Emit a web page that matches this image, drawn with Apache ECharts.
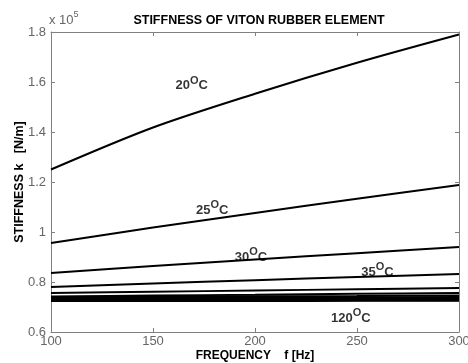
<!DOCTYPE html>
<html>
<head>
<meta charset="utf-8">
<script src="https://cdn.jsdelivr.net/npm/echarts@6/dist/echarts.min.js"></script>
<style>
  html, body { margin: 0; padding: 0; background: #fff; }
  #main { width: 468px; height: 363px; }
</style>
</head>
<body>
<div id="main"></div>
<script>
// frequency points [Hz]
var freq = [100, 150, 200, 250, 300];

// stiffness in units of 1e5 N/m, one array per temperature
var k20 = [1.250, 1.418, 1.553, 1.677, 1.790];
var k25 = [0.956, 1.018, 1.076, 1.133, 1.188];
var k30 = [0.836, 0.864, 0.890, 0.915, 0.940];
var k35 = [0.780, 0.794, 0.807, 0.820, 0.832];
var k40 = [0.756, 0.761, 0.766, 0.771, 0.776];
var k50 = [0.742, 0.746, 0.749, 0.753, 0.756];
var k60 = [0.740, 0.741, 0.743, 0.744, 0.746];
var k70 = [0.736, 0.737, 0.738, 0.739, 0.740];
var k80 = [0.733, 0.734, 0.734, 0.735, 0.736];
var k90 = [0.730, 0.731, 0.731, 0.732, 0.733];
var k100 = [0.728, 0.728, 0.729, 0.729, 0.730];
var k110 = [0.726, 0.726, 0.726, 0.727, 0.727];
var k120 = [0.724, 0.724, 0.724, 0.725, 0.725];

var curves = [k20, k25, k30, k35, k40, k50, k60, k70, k80, k90, k100, k110, k120];

// temperature labels: [text, freq, k]
var tempLabels = [
  ['20', 169, 1.594],
  ['25', 179, 1.096],
  ['30', 198, 0.908],
  ['35', 260, 0.848],
  ['120', 247, 0.664]
];

var xTicks = [100, 150, 200, 250, 300];
var yTicks = [0.6, 0.8, 1, 1.2, 1.4, 1.6, 1.8];

var chart = echarts.init(document.getElementById('main'));

var axisGray = '#808080';
var font = 'Arial, "Liberation Sans", sans-serif';

function pairs(ys) {
  return freq.map(function (f, i) { return [f, ys[i]]; });
}

var series = curves.map(function (c) {
  return {
    type: 'line',
    data: pairs(c),
    showSymbol: false,
    smooth: 0.3,
    lineStyle: { color: '#000', width: 2 },
    silent: true
  };
});

series.push({
  type: 'scatter',
  data: tempLabels.map(function (t) { return [t[1], t[2], t[0]]; }),
  symbolSize: 0,
  silent: true,
  label: {
    show: true,
    position: 'inside',
    formatter: function (p) { return '{n|' + p.data[2] + '}{s|O}{n|C}'; },
    rich: {
      n: { fontFamily: font, fontWeight: 'bold', fontSize: 13, color: '#000', verticalAlign: 'bottom', lineHeight: 17 },
      s: { fontFamily: font, fontWeight: 'bold', fontSize: 11, color: '#000', verticalAlign: 'top', lineHeight: 17, padding: [0, 0, 6, 0] }
    }
  }
});

chart.setOption({
  animation: false,
  title: {
    text: 'STIFFNESS OF VITON RUBBER ELEMENT',
    left: 254, top: 9, textAlign: 'center',
    textStyle: { fontFamily: font, fontWeight: 'bold', fontSize: 12.5, color: '#000' }
  },
  graphic: [{
    type: 'text', left: 49, top: 10,
    style: {
      text: '{a|x 10}{b|5}',
      rich: {
        a: { fontFamily: font, fontSize: 13, fill: '#666', verticalAlign: 'bottom', lineHeight: 17 },
        b: { fontFamily: font, fontSize: 9, fill: '#666', verticalAlign: 'top', lineHeight: 17, padding: [0, 0, 7, 0] }
      }
    }
  }],
  grid: { left: 51, right: 9, top: 32, bottom: 31, outerBoundsMode: 'none', containLabel: false },
  xAxis: [{
    type: 'value', min: 100, max: 300, interval: 50,
    name: 'FREQUENCY    f [Hz]', nameLocation: 'middle', nameGap: 18, nameMoveOverlap: false,
    nameTextStyle: { fontFamily: font, fontWeight: 'bold', fontSize: 12, color: '#000' },
    axisLine: { lineStyle: { color: axisGray } },
    axisTick: { inside: true, length: 4, lineStyle: { color: axisGray } },
    axisLabel: { fontFamily: font, fontSize: 13, color: '#666', margin: 3,
      formatter: function (v) { return xTicks.indexOf(v) >= 0 ? String(v) : ''; } },
    splitLine: { show: false }
  }, {
    type: 'value', min: 100, max: 300, interval: 50, position: 'top',
    axisLine: { lineStyle: { color: axisGray } },
    axisTick: { inside: true, length: 4, lineStyle: { color: axisGray } },
    axisLabel: { show: false },
    splitLine: { show: false }
  }],
  yAxis: [{
    type: 'value', min: 0.6, max: 1.8, interval: 0.2,
    name: 'STIFFNESS k   [N/m]', nameLocation: 'middle', nameGap: 25, nameMoveOverlap: false,
    nameTextStyle: { fontFamily: font, fontWeight: 'bold', fontSize: 12.5, color: '#000' },
    axisLine: { show: true, lineStyle: { color: axisGray } },
    axisTick: { show: true, inside: true, length: 4, lineStyle: { color: axisGray } },
    axisLabel: { fontFamily: font, fontSize: 13, color: '#666', margin: 5,
      formatter: function (v) {
        var r = Math.round(v * 10) / 10;
        return yTicks.indexOf(r) >= 0 ? String(r) : '';
      } },
    splitLine: { show: false }
  }, {
    type: 'value', min: 0.6, max: 1.8, interval: 0.2, position: 'right',
    axisLine: { show: true, lineStyle: { color: axisGray } },
    axisTick: { show: true, inside: true, length: 4, lineStyle: { color: axisGray } },
    axisLabel: { show: false },
    splitLine: { show: false }
  }],
  series: series
});
</script>
</body>
</html>
